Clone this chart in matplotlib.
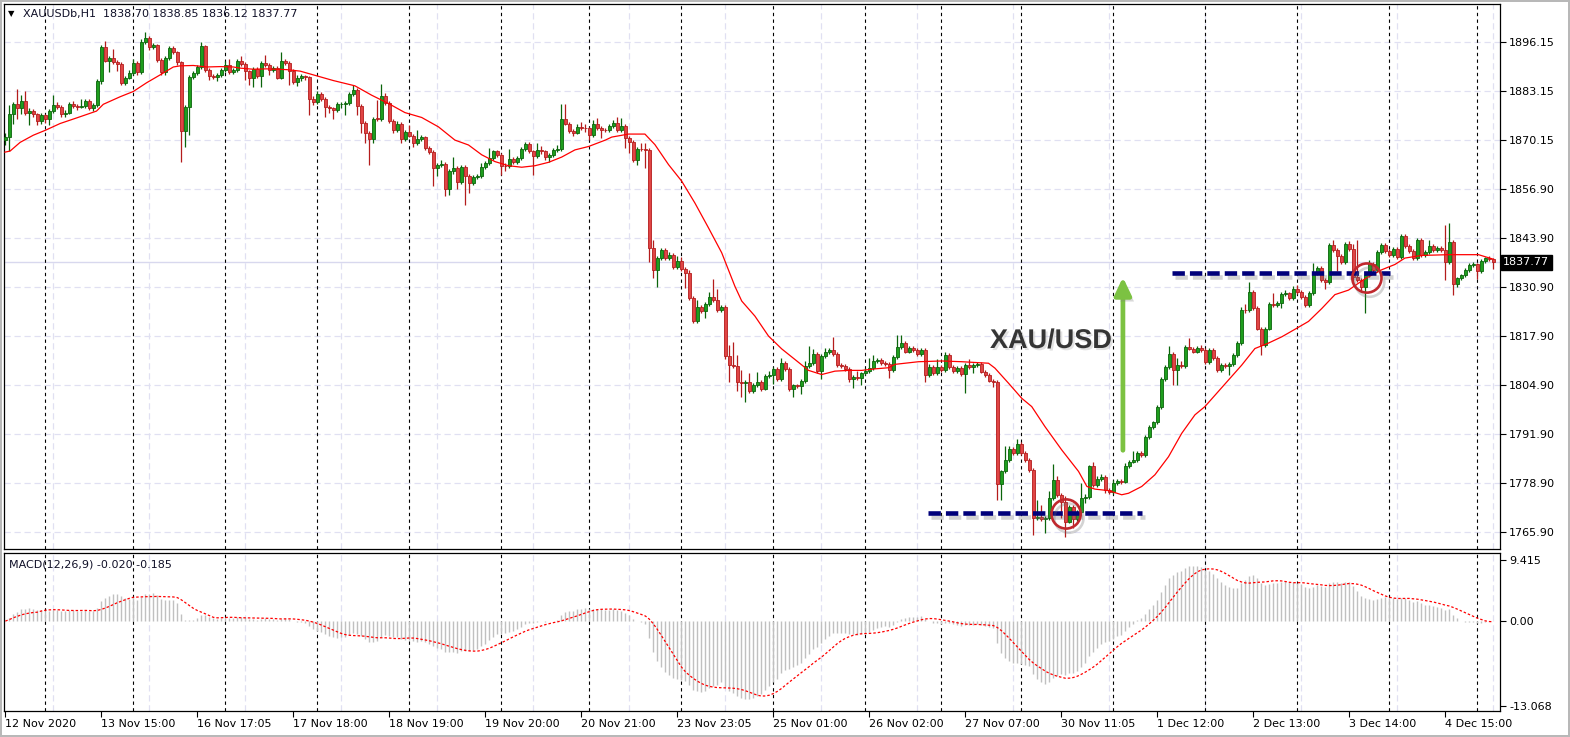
import numpy as np
import pandas as pd
import matplotlib
matplotlib.use("Agg")
import matplotlib.pyplot as plt
import matplotlib.patheffects as pe

# XAUUSD H1 bars, 12 Nov 2020 -> 4 Dec 2020
first_open = 1870.2
closes = [
    1871.0, 1877.0, 1879.7, 1878.7, 1880.5, 1877.4, 1878.0, 1877.0, 1875.3, 1876.8,
    1875.7, 1877.9, 1879.5, 1879.0, 1877.0, 1877.5, 1879.9, 1879.2, 1879.0, 1879.2,
    1880.5, 1878.8, 1879.5, 1885.8, 1894.8, 1891.3, 1891.9, 1890.9, 1890.3, 1885.4,
    1886.8, 1888.1, 1890.6, 1888.2, 1896.3, 1897.2, 1894.8, 1895.3, 1891.4, 1888.2,
    1892.0, 1894.6, 1893.5, 1890.9, 1872.6, 1879.0, 1886.9, 1888.1, 1889.6, 1895.1,
    1888.9, 1887.1, 1887.0, 1887.4, 1888.7, 1890.0, 1888.2, 1888.7, 1891.1, 1890.4,
    1888.5, 1886.8, 1889.1, 1887.2, 1890.7, 1890.2, 1888.7, 1889.3, 1886.8, 1891.3,
    1890.7, 1888.5, 1885.6, 1886.8, 1887.2, 1886.9, 1881.2, 1880.2, 1882.5, 1881.2,
    1879.0, 1878.6, 1878.1, 1879.7, 1879.9, 1880.1, 1882.4, 1883.6, 1879.3, 1874.8,
    1872.0, 1870.4, 1875.9, 1875.8, 1881.8, 1880.1, 1875.3, 1872.9, 1874.6, 1870.4,
    1872.4, 1871.4, 1869.4, 1870.5, 1870.9, 1868.0, 1867.0, 1862.8, 1863.6, 1863.8,
    1857.2, 1861.9, 1862.8, 1859.1, 1863.0, 1860.8, 1858.8, 1860.4, 1860.6, 1863.0,
    1864.1, 1865.5, 1867.2, 1866.2, 1863.4, 1863.2, 1865.3, 1864.3, 1865.4, 1867.8,
    1869.2, 1867.2, 1866.0, 1867.6, 1867.2, 1865.6, 1866.3, 1867.6, 1867.8, 1875.7,
    1874.6, 1872.7, 1872.2, 1873.7, 1873.5, 1873.3, 1871.5, 1874.6, 1873.4, 1873.0,
    1872.8, 1874.0, 1874.8, 1872.8, 1874.0, 1870.8, 1869.6, 1864.8, 1867.9, 1867.8,
    1867.7, 1841.6, 1835.8, 1838.9, 1841.0, 1838.9, 1839.8, 1836.6, 1838.2, 1836.0,
    1834.9, 1828.3, 1822.1, 1825.9, 1824.8, 1826.7, 1828.6, 1827.7, 1825.0, 1825.9,
    1812.9, 1810.5, 1810.2, 1806.0, 1805.8, 1806.0, 1803.6, 1805.3, 1806.0, 1804.2,
    1807.7, 1807.9, 1809.5, 1806.8, 1811.1, 1809.5, 1804.2, 1805.1, 1804.9, 1806.2,
    1810.2, 1811.1, 1813.5, 1808.9, 1813.0, 1813.9, 1814.6, 1813.5, 1810.5, 1810.2,
    1809.5, 1806.8, 1807.3, 1807.1, 1808.3, 1808.9, 1809.8, 1811.5, 1811.8, 1811.1,
    1810.8, 1809.2, 1812.7, 1815.3, 1816.3, 1814.1, 1815.0, 1814.5, 1813.4, 1814.5,
    1807.9, 1810.1, 1808.3, 1810.1, 1809.2, 1813.2, 1810.1, 1809.0, 1809.7, 1808.2,
    1810.5, 1810.1, 1810.5, 1810.7, 1808.8, 1807.9, 1806.4, 1806.1, 1779.0, 1782.3,
    1785.4, 1788.3, 1787.1, 1789.5, 1787.1, 1785.4, 1782.7, 1769.9, 1770.3, 1769.6,
    1769.9, 1775.2, 1780.0, 1776.0, 1774.3, 1769.0, 1772.8, 1769.6, 1771.6, 1775.2,
    1775.6, 1783.6, 1778.7, 1780.2, 1780.9, 1777.4, 1776.9, 1779.2, 1779.8, 1779.6,
    1783.6, 1784.9, 1785.4, 1787.3, 1786.7, 1791.5, 1794.0, 1795.3, 1799.3, 1806.7,
    1810.1, 1813.4, 1809.2, 1810.5, 1810.3, 1815.4, 1814.9, 1814.1, 1815.0, 1814.5,
    1811.4, 1814.5, 1812.3, 1809.2, 1810.5, 1810.3, 1810.8, 1813.2, 1816.3, 1825.2,
    1825.0, 1829.9, 1825.7, 1820.2, 1815.8, 1820.2, 1826.8, 1826.4, 1827.1, 1829.3,
    1829.5, 1828.4, 1830.8, 1829.9, 1828.6, 1826.4, 1829.7, 1834.8, 1836.3, 1833.0,
    1832.5, 1842.5, 1841.0, 1839.5, 1837.9, 1842.6, 1841.4, 1833.9, 1833.0, 1831.2,
    1834.3, 1837.4, 1835.7, 1840.5, 1842.3, 1840.7, 1839.8, 1841.4, 1839.2, 1844.7,
    1842.1, 1840.7, 1838.8, 1843.6, 1839.6, 1840.5, 1842.1, 1841.0, 1841.5, 1841.0,
    1837.9, 1843.2, 1832.1, 1833.5, 1834.3, 1835.8, 1837.0, 1837.2, 1835.5, 1838.1,
    1838.8, 1838.7, 1837.77,
]
highs = [
    1872.0, 1879.4, 1880.3, 1883.8, 1882.1, 1883.1, 1878.6, 1878.5, 1877.4, 1877.3,
    1877.2, 1878.4, 1882.1, 1880.2, 1879.5, 1878.1, 1880.4, 1880.5, 1879.8, 1881.0,
    1881.0, 1881.0, 1880.1, 1886.5, 1895.3, 1896.6, 1892.6, 1894.5, 1891.5, 1890.8,
    1887.3, 1888.7, 1891.7, 1891.1, 1896.9, 1898.8, 1897.9, 1895.9, 1895.8, 1891.9,
    1892.6, 1895.1, 1895.2, 1893.9, 1891.3, 1879.6, 1887.4, 1888.6, 1890.1, 1896.2,
    1895.5, 1889.4, 1887.7, 1887.9, 1889.2, 1891.3, 1891.7, 1889.3, 1891.7, 1892.4,
    1890.9, 1888.9, 1889.6, 1889.6, 1891.2, 1892.9, 1890.7, 1889.8, 1889.8, 1893.5,
    1891.7, 1891.1, 1889.0, 1887.4, 1887.8, 1887.6, 1887.3, 1881.8, 1883.2, 1883.0,
    1881.7, 1879.5, 1879.1, 1880.3, 1880.4, 1880.7, 1883.0, 1884.7, 1884.1, 1879.8,
    1875.3, 1872.5, 1876.4, 1880.8, 1885.0, 1882.6, 1880.6, 1875.8, 1875.2, 1875.1,
    1872.9, 1874.2, 1871.9, 1872.8, 1871.5, 1871.4, 1868.6, 1867.5, 1864.2, 1865.0,
    1864.3, 1862.5, 1865.8, 1863.3, 1863.5, 1863.5, 1861.3, 1861.0, 1861.2, 1864.0,
    1864.7, 1868.0, 1867.7, 1867.7, 1866.7, 1864.0, 1867.8, 1865.8, 1866.0, 1868.4,
    1869.6, 1869.8, 1867.7, 1869.5, 1868.6, 1867.7, 1866.9, 1868.1, 1868.8, 1879.7,
    1879.9, 1875.1, 1873.2, 1874.6, 1874.9, 1874.6, 1873.8, 1875.5, 1876.1, 1873.9,
    1873.5, 1874.5, 1875.5, 1876.3, 1876.1, 1874.5, 1871.3, 1870.2, 1868.4, 1869.4,
    1869.4, 1868.2, 1843.8, 1839.4, 1841.6, 1841.5, 1840.4, 1840.3, 1839.5, 1839.2,
    1836.5, 1835.8, 1828.8, 1827.9, 1826.4, 1827.2, 1829.8, 1833.4, 1830.7, 1826.5,
    1826.4, 1815.9, 1816.7, 1813.1, 1809.1, 1806.5, 1808.4, 1805.8, 1808.6, 1806.5,
    1808.2, 1808.9, 1810.0, 1810.0, 1812.4, 1811.6, 1810.0, 1805.6, 1805.6, 1806.7,
    1811.5, 1815.5, 1814.7, 1814.0, 1813.5, 1815.0, 1815.1, 1818.0, 1814.0, 1811.0,
    1810.7, 1810.0, 1807.8, 1808.9, 1808.8, 1809.8, 1812.4, 1813.1, 1812.4, 1812.3,
    1811.6, 1811.3, 1813.2, 1818.6, 1818.5, 1816.8, 1815.6, 1815.5, 1815.0, 1815.1,
    1815.0, 1810.7, 1810.6, 1812.1, 1810.6, 1814.0, 1813.7, 1810.6, 1810.2, 1810.2,
    1811.0, 1812.1, 1811.0, 1811.2, 1811.2, 1809.3, 1808.4, 1806.9, 1806.6, 1782.8,
    1789.0, 1789.0, 1788.8, 1790.8, 1790.0, 1787.6, 1785.9, 1783.2, 1774.7, 1773.4,
    1770.4, 1777.2, 1784.3, 1781.0, 1776.5, 1775.8, 1773.3, 1773.3, 1772.1, 1779.2,
    1776.2, 1784.1, 1784.9, 1781.2, 1781.6, 1781.4, 1777.9, 1780.1, 1780.3, 1780.3,
    1784.5, 1785.4, 1787.6, 1787.8, 1787.8, 1792.0, 1794.5, 1795.8, 1799.8, 1807.4,
    1810.6, 1815.6, 1813.9, 1812.5, 1811.6, 1815.9, 1817.6, 1815.4, 1815.5, 1815.9,
    1815.0, 1815.0, 1815.0, 1812.8, 1811.0, 1811.0, 1811.3, 1813.7, 1816.8, 1825.8,
    1826.6, 1832.6, 1830.4, 1826.2, 1820.7, 1820.7, 1827.3, 1829.6, 1827.6, 1829.8,
    1830.3, 1830.0, 1831.4, 1831.8, 1830.4, 1829.1, 1830.2, 1837.5, 1836.9, 1836.8,
    1833.5, 1843.0, 1843.6, 1841.5, 1840.0, 1843.1, 1843.4, 1842.6, 1843.6, 1833.5,
    1834.8, 1838.3, 1837.9, 1841.0, 1842.8, 1842.8, 1841.2, 1841.9, 1841.9, 1845.2,
    1845.2, 1842.6, 1841.2, 1844.1, 1844.1, 1841.0, 1843.6, 1842.6, 1842.0, 1842.2,
    1847.6, 1848.2, 1843.7, 1834.0, 1834.8, 1836.3, 1837.5, 1837.8, 1837.7, 1838.6,
    1839.3, 1839.4, 1838.85,
]
lows = [
    1869.0, 1867.3, 1874.5, 1875.9, 1877.0, 1876.9, 1874.2, 1876.3, 1874.2, 1874.5,
    1874.8, 1874.2, 1877.4, 1878.4, 1876.3, 1876.4, 1877.1, 1878.7, 1878.3, 1878.6,
    1878.7, 1878.2, 1878.0, 1879.0, 1885.2, 1890.8, 1888.2, 1890.3, 1888.6, 1884.8,
    1884.8, 1886.3, 1887.6, 1887.6, 1887.7, 1895.7, 1894.2, 1894.3, 1890.9, 1887.5,
    1887.4, 1891.5, 1893.0, 1890.0, 1864.5, 1868.5, 1871.5, 1886.5, 1887.6, 1889.1,
    1888.3, 1886.2, 1886.4, 1885.8, 1887.0, 1888.2, 1887.7, 1887.8, 1888.2, 1889.9,
    1886.2, 1884.8, 1884.4, 1886.7, 1884.4, 1889.7, 1887.4, 1888.2, 1886.3, 1886.3,
    1890.2, 1884.8, 1885.2, 1884.6, 1886.0, 1886.2, 1876.8, 1879.5, 1879.8, 1880.6,
    1876.4, 1877.3, 1875.7, 1877.6, 1878.6, 1876.8, 1879.6, 1882.0, 1876.8, 1872.0,
    1869.4, 1863.6, 1869.4, 1875.2, 1875.3, 1879.6, 1874.7, 1872.0, 1872.4, 1869.4,
    1869.9, 1870.9, 1868.5, 1868.9, 1870.0, 1867.5, 1866.4, 1857.9, 1860.7, 1863.1,
    1855.3, 1855.7, 1861.3, 1857.1, 1858.6, 1853.1, 1856.2, 1858.3, 1859.9, 1860.1,
    1862.5, 1863.6, 1865.0, 1865.6, 1861.0, 1862.0, 1862.7, 1863.8, 1863.8, 1864.9,
    1867.3, 1866.7, 1861.0, 1865.5, 1866.6, 1865.0, 1864.4, 1865.8, 1867.1, 1867.3,
    1874.1, 1872.1, 1871.4, 1871.7, 1873.0, 1872.3, 1870.1, 1871.0, 1872.9, 1870.8,
    1872.3, 1872.3, 1873.5, 1872.3, 1872.3, 1868.1, 1866.8, 1864.3, 1863.5, 1867.3,
    1862.8, 1837.8, 1833.6, 1831.2, 1838.4, 1838.4, 1838.4, 1835.9, 1836.1, 1835.5,
    1830.9, 1827.8, 1821.7, 1821.6, 1824.3, 1822.9, 1826.2, 1827.2, 1824.5, 1824.5,
    1812.0, 1806.0, 1809.7, 1803.6, 1802.0, 1800.6, 1803.1, 1803.1, 1804.8, 1803.7,
    1804.0, 1807.2, 1805.6, 1806.3, 1806.3, 1809.0, 1803.6, 1802.0, 1804.4, 1802.8,
    1805.7, 1809.7, 1810.6, 1808.4, 1806.8, 1812.5, 1813.4, 1813.0, 1810.0, 1809.7,
    1809.0, 1806.1, 1804.5, 1806.6, 1805.1, 1807.8, 1808.4, 1809.3, 1811.0, 1810.6,
    1810.3, 1807.2, 1808.7, 1812.2, 1814.8, 1813.6, 1813.6, 1814.0, 1812.9, 1812.9,
    1806.1, 1807.4, 1807.8, 1807.8, 1808.7, 1808.7, 1809.6, 1808.5, 1808.5, 1807.7,
    1803.0, 1809.6, 1808.3, 1810.0, 1808.3, 1807.3, 1806.1, 1804.8, 1774.7, 1774.7,
    1781.8, 1784.9, 1786.6, 1786.6, 1786.6, 1784.9, 1782.2, 1765.3, 1769.4, 1769.1,
    1765.9, 1769.4, 1774.7, 1775.5, 1769.9, 1765.0, 1768.5, 1767.2, 1769.1, 1771.1,
    1773.9, 1775.1, 1778.2, 1778.2, 1779.7, 1776.5, 1776.3, 1776.4, 1778.7, 1778.9,
    1779.1, 1783.1, 1784.4, 1784.9, 1786.2, 1786.2, 1791.0, 1793.5, 1794.8, 1798.8,
    1806.2, 1809.6, 1805.2, 1805.2, 1809.8, 1809.8, 1814.4, 1813.6, 1813.6, 1814.0,
    1810.9, 1810.9, 1811.8, 1808.7, 1808.7, 1809.8, 1807.9, 1810.3, 1812.7, 1815.8,
    1824.4, 1824.5, 1825.2, 1819.7, 1813.2, 1815.3, 1819.7, 1825.9, 1825.9, 1825.7,
    1828.8, 1827.9, 1827.9, 1829.4, 1828.1, 1825.9, 1825.9, 1829.2, 1834.3, 1832.5,
    1830.8, 1832.0, 1840.5, 1835.4, 1837.4, 1837.4, 1840.9, 1832.6, 1832.5, 1829.9,
    1824.3, 1833.8, 1835.2, 1835.2, 1840.0, 1840.2, 1839.3, 1839.3, 1838.7, 1838.7,
    1841.6, 1840.2, 1838.3, 1838.3, 1839.1, 1839.1, 1840.0, 1840.5, 1840.5, 1840.5,
    1833.1, 1837.4, 1829.0, 1831.3, 1833.0, 1833.8, 1835.3, 1836.5, 1833.4, 1835.0,
    1837.6, 1838.2, 1836.12,
]

# moving average (red line), read at bar positions
ma_pos = [-0.1, 1.2, 3.7, 7.0, 10.0, 13.7, 18.7, 22.8, 24.5, 28.7, 32.0, 35.3, 38.7,
          42.0, 43.7, 47.0, 50.3, 53.7, 57.0, 58.7, 62.0, 65.3, 70.3, 73.7, 82.0,
          87.4, 91.6, 95.8, 99.9, 104.1, 108.3, 112.4, 115.8, 119.1, 122.4, 125.8,
          129.1, 132.4, 135.8, 139.1, 142.4, 145.8, 150.0, 151.6, 155.8, 159.9,
          162.4, 165.8, 169.1, 172.4, 175.8, 179.1, 182.4, 184.1, 187.4, 190.8,
          194.1, 197.4, 200.8, 204.1, 207.4, 210.8, 214.1, 217.4, 220.8, 222.4,
          228.3, 234.1, 239.1, 245.8, 247.4, 250.8, 254.1, 256.6, 259.9, 264.1,
          268.3, 270.4, 272.4, 275.8, 279.1, 280.8, 284.1, 287.4, 290.8, 294.1,
          297.4, 299.9, 309.1, 312.4, 315.7, 319.1, 322.4, 325.8, 329.1, 332.4,
          335.8, 339.9, 344.1, 347.4, 349.9, 354.1, 360.8, 368.3, 372.0]
ma_val = [1867.0, 1867.3, 1869.6, 1871.5, 1872.8, 1874.6, 1876.4, 1877.9, 1879.7,
          1881.7, 1883.1, 1885.4, 1887.5, 1889.6, 1889.9, 1890.0, 1889.6, 1889.7,
          1889.6, 1889.3, 1889.0, 1889.1, 1888.9, 1888.5, 1886.0, 1884.6, 1882.1,
          1879.9, 1877.5, 1876.2, 1873.7, 1870.2, 1868.9, 1866.3, 1864.5, 1863.4,
          1863.0, 1863.4, 1864.3, 1865.7, 1867.6, 1868.5, 1870.2, 1871.0, 1871.8,
          1871.8, 1869.0, 1863.7, 1859.3, 1853.5, 1846.9, 1840.3, 1831.4, 1827.5,
          1823.5, 1818.2, 1814.8, 1812.0, 1809.1, 1808.0, 1808.9, 1809.1, 1809.1,
          1809.5, 1809.8, 1810.7, 1811.4, 1811.6, 1811.4, 1811.0, 1809.7, 1805.7,
          1801.7, 1799.5, 1794.2, 1788.0, 1782.3, 1778.3, 1777.6, 1777.2, 1776.1,
          1776.5, 1778.3, 1781.4, 1786.2, 1792.4, 1797.3, 1799.5, 1810.5, 1814.9,
          1816.3, 1818.0, 1820.0, 1822.1, 1825.5, 1829.2, 1830.4, 1833.4, 1835.8,
          1837.2, 1838.9, 1839.6, 1839.8, 1839.8, 1838.6]

# day separators (bar index of each midnight)
day_breaks = [10, 32, 55, 78, 101, 124, 146, 169, 192, 215, 234, 254, 277, 300, 323, 346, 368]

date_labels = ['12 Nov 2020', '13 Nov 15:00', '16 Nov 17:05', '17 Nov 18:00', '18 Nov 19:00',
               '19 Nov 20:00', '20 Nov 21:00', '23 Nov 23:05', '25 Nov 01:00', '26 Nov 02:00',
               '27 Nov 07:00', '30 Nov 11:05', '1 Dec 12:00', '2 Dec 13:00', '3 Dec 14:00',
               '4 Dec 15:00']
price_labels = ['1896.15', '1883.15', '1870.15', '1856.90', '1843.90', '1830.90',
                '1817.90', '1804.90', '1791.90', '1778.90', '1765.90']
last_price = 1837.77

# support / resistance levels drawn on the chart
support = (230.7, 284.2, 1771.3)
resistance = (291.7, 346.2, 1834.9)
touches = [(265.2, 1771.0), (340.4, 1833.6)]

c = np.array(closes)
h = np.array(highs)
l = np.array(lows)
o = np.array([first_open] + closes[:-1])
idx = np.arange(len(c))
up = c >= o
body_lo = np.minimum(o, c)
body_h = np.maximum(np.abs(c - o), 0.15)

# MACD(12,26,9): main as histogram, signal as dotted line
s = pd.Series(closes)
macd = s.ewm(span=12, adjust=False).mean() - s.ewm(span=26, adjust=False).mean()
signal = macd.rolling(9, min_periods=1).mean()

W, H = 1570, 737
fig = plt.figure(figsize=(W / 100, H / 100), dpi=100)
fig.patch.set_edgecolor('#b8b8b8')
fig.patch.set_linewidth(1.5)
ax = fig.add_axes([4 / W, 1 - 549 / H, 1496 / W, 545 / H])
ax2 = fig.add_axes([4 / W, 1 - 711 / H, 1496 / W, 158 / H])

grid_c = '#e0e0f2'
for a in (ax, ax2):
    a.set_xlim(-0.33, 373.67)
    for xg in np.arange(12, 374, 24):
        a.axvline(xg, color=grid_c, lw=0.9, ls=(0, (5, 3)), zorder=0)
    for xd in day_breaks:
        a.axvline(xd, color='black', lw=0.8, ls=(0, (3, 3)), zorder=1)
    for sp in a.spines.values():
        sp.set_color('black')
        sp.set_linewidth(0.9)
    a.yaxis.tick_right()
    a.tick_params(axis='y', direction='out', length=4, pad=2.5, labelsize=8, colors='black')

# price panel
ax.set_ylim(1761.71, 1906.31)
tick_vals = 1896.15 - 13 * np.arange(len(price_labels))
for yv in tick_vals:
    ax.axhline(yv, color=grid_c, lw=0.9, ls=(0, (5, 3)), zorder=0)
ax.axhline(last_price, color='#d8d8ee', lw=1, zorder=0.5)
ax.set_yticks(tick_vals, price_labels)
ax.set_xticks([])

bull_fill, bull_edge = '#1e9e1e', '#0a640a'
bear_fill, bear_edge = '#e04545', '#b41c1c'
ax.vlines(idx[up], l[up], h[up], color=bull_edge, lw=0.9, zorder=2)
ax.vlines(idx[~up], l[~up], h[~up], color=bear_edge, lw=0.9, zorder=2)
ax.bar(idx[up], body_h[up], bottom=body_lo[up], width=0.68, color=bull_fill,
       edgecolor=bull_edge, linewidth=0.6, zorder=3)
ax.bar(idx[~up], body_h[~up], bottom=body_lo[~up], width=0.68, color=bear_fill,
       edgecolor=bear_edge, linewidth=0.6, zorder=3)
ax.plot(ma_pos, ma_val, color='#ff0000', lw=0.9, zorder=4)

# last price box
ax.text(1.002, last_price, f'{last_price:.2f}', transform=ax.get_yaxis_transform(),
        ha='left', va='center', fontsize=8, color='white', clip_on=False,
        bbox=dict(boxstyle='square,pad=0.22', fc='black', ec='black'))

# header
ax.text(0.0027, 0.982, '\u25bc', transform=ax.transAxes, fontsize=6, va='center', ha='left')
ax.text(0.0127, 0.982, 'XAUUSDb,H1  1838.70 1838.85 1836.12 1837.77', transform=ax.transAxes,
        fontsize=8, va='center', ha='left', color='#101028')

# annotations
shadow_line = [pe.SimpleLineShadow(offset=(2, -3), shadow_color='#707070', alpha=0.3), pe.Normal()]
for x0, x1, yv in (support, resistance):
    ax.plot([x0, x1], [yv, yv], color='#00007a', lw=3.3, ls=(0, (2.7, 1.1)),
            solid_capstyle='butt', zorder=6, path_effects=shadow_line)
for xc, yc in touches:
    ax.plot(xc, yc, marker='o', ms=21, mfc='none', mec='#c0282d', mew=1.9, zorder=7,
            path_effects=[pe.SimpleLineShadow(offset=(2, -3), shadow_color='#707070', alpha=0.3),
                          pe.Normal()])
ax.annotate('', xy=(279.4, 1833.8), xytext=(279.4, 1787.9),
            arrowprops=dict(arrowstyle='-|>,head_length=1.05,head_width=0.5', color='#7cc242',
                            lw=3.4, shrinkA=0, shrinkB=0,
                            path_effects=[pe.withSimplePatchShadow(offset=(3, -3),
                                                                   shadow_rgbFace='#808080',
                                                                   alpha=0.3)]),
            zorder=6)
ax.text(261.4, 1816.9, 'XAU/USD', ha='center', va='center', fontsize=19.5, fontweight='bold',
        family='Liberation Sans', color='#353535', zorder=7,
        path_effects=[pe.withSimplePatchShadow(offset=(1.5, -1.5), shadow_rgbFace='#a0a0a0', alpha=0.3)])

# MACD panel
ax2.set_ylim(-13.84, 10.49)
ax2.vlines(idx, 0, macd.values, color='#c0c0c0', lw=1, zorder=2)
ax2.plot(idx, signal.values, color='#ff0000', lw=0.9, ls=(0, (2, 1.6)), zorder=3)
ax2.set_yticks([9.415, 0.0, -13.068], ['9.415', '0.00', '-13.068'])
ax2.text(0.0035, 0.925, 'MACD(12,26,9) -0.020 -0.185', transform=ax2.transAxes,
         fontsize=8, va='center', ha='left', color='#101028')
ax2.set_xticks(np.arange(0, 24 * len(date_labels), 24), date_labels)
ax2.tick_params(axis='x', direction='out', length=4, pad=2, labelsize=8, colors='black')
for lab in ax2.get_xticklabels():
    lab.set_ha('left')

fig.savefig('out.png', dpi=100)
